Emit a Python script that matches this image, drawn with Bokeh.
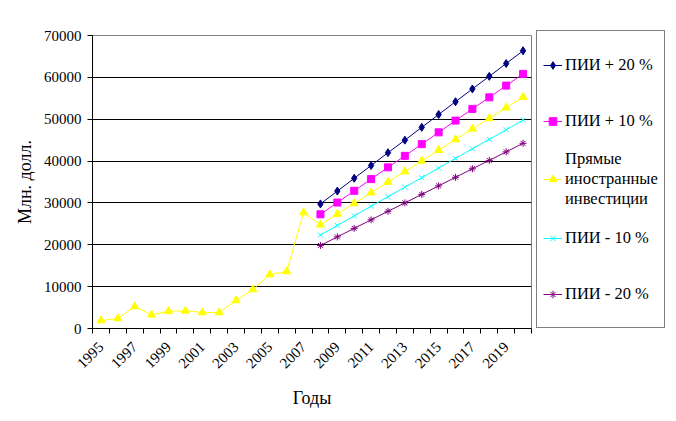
from bokeh.plotting import figure
from bokeh.models import FixedTicker, Legend, LegendItem, Range1d
from bokeh.embed import file_html
from bokeh.resources import INLINE

# ---- data ----
years = list(range(1995, 2021))
fdi = [1900, 2400, 5250, 3270, 4140, 4220, 3820, 3820, 6690, 9320, 12900, 13620,
       27700, 24800, 27350, 29900, 32450, 35000, 37500, 40050, 42600, 45150,
       47700, 50200, 52750, 55300]
fc_years = list(range(2008, 2021))
plus20 = [29760, 32820, 35880, 38940, 42000, 45000, 48060, 51120, 54180, 57240, 60240, 63300, 66360]
plus10 = [27280, 30085, 32890, 35695, 38500, 41250, 44055, 46860, 49665, 52470, 55220, 58025, 60830]
minus10 = [22320, 24615, 26910, 29205, 31500, 33750, 36045, 38340, 40635, 42930, 45180, 47475, 49770]
minus20 = [19840, 21880, 23920, 25960, 28000, 30000, 32040, 34080, 36120, 38160, 40160, 42200, 44240]
label_years = [1995, 1997, 1999, 2001, 2003, 2005, 2007, 2009, 2011, 2013, 2015, 2017, 2019]
y_ticks = [0, 10000, 20000, 30000, 40000, 50000, 60000, 70000]
names = ["ПИИ + 20 %", "ПИИ + 10 %", "Прямые\nиностранные\nинвестиции", "ПИИ - 10 %", "ПИИ - 20 %"]

FONT = "Liberation Serif"

p = figure(frame_width=439, frame_height=293,
           x_range=Range1d(years[0] - 0.5, years[-1] + 0.5),
           y_range=Range1d(y_ticks[0], y_ticks[-1]),
           output_backend="svg", toolbar_location=None,
           min_border_left=92, min_border_top=35, min_border_bottom=85, min_border_right=5)
p.background_fill_color = "white"
p.border_fill_color = "white"
p.outline_line_color = "#808080"
p.outline_line_width = 1

# axes
p.yaxis.ticker = FixedTicker(ticks=y_ticks)
p.yaxis.major_tick_out = 5
p.yaxis.major_tick_in = 0
p.yaxis.minor_tick_line_color = None
p.yaxis.major_label_standoff = 6
p.yaxis.axis_label = "Млн. долл."
p.yaxis.axis_label_standoff = 6
p.yaxis.axis_line_color = "black"

bounds = [y - 0.5 for y in years] + [years[-1] + 0.5]
p.xaxis.ticker = FixedTicker(ticks=label_years, minor_ticks=bounds)
p.xaxis.major_tick_line_color = None
p.xaxis.major_tick_out = 0
p.xaxis.major_tick_in = 0
p.xaxis.minor_tick_out = 5
p.xaxis.minor_tick_in = 0
p.xaxis.minor_tick_line_color = "black"
p.xaxis.major_label_orientation = 0.785398
p.xaxis.major_label_standoff = 11
p.xaxis.axis_label = "Годы"
p.xaxis.axis_label_standoff = 12
p.xaxis.axis_line_color = "black"

for ax in (p.xaxis[0], p.yaxis[0]):
    ax.major_label_text_font = FONT
    ax.major_label_text_font_size = "15px"
    ax.major_label_text_color = "black"
    ax.axis_label_text_font = FONT
    ax.axis_label_text_font_size = "18px"
    ax.axis_label_text_font_style = "normal"
    ax.axis_label_text_color = "black"

p.xgrid.grid_line_color = None
p.ygrid.ticker = FixedTicker(ticks=y_ticks[1:-1])
p.ygrid.grid_line_color = "black"
p.ygrid.grid_line_width = 1

# series
items = []
specs = [
    (fc_years, plus20, "#000080", "diamond", 8),
    (fc_years, plus10, "#FF00FF", "square", 7),
    (years, fdi, "#FFFF00", "triangle", 8),
    (fc_years, minus10, "#00FFFF", "x", 7),
    (fc_years, minus20, "#800080", "asterisk", 7),
]
for (xs, ys, col, mk, sz), nm in zip(specs, names):
    l = p.line(xs, ys, line_color=col, line_width=1)
    s = p.scatter(xs, ys, marker=mk, size=sz, line_color=col, fill_color=col, line_width=1)
    items.append(LegendItem(label=nm, renderers=[l, s]))

legend = Legend(items=items, location=(5, 0))
legend.border_line_color = "black"
legend.border_line_width = 1
legend.background_fill_color = "white"
legend.background_fill_alpha = 1
legend.label_text_font = FONT
legend.label_text_font_size = "16.5px"
legend.label_text_color = "black"
legend.glyph_width = 19
legend.glyph_height = 20
legend.label_height = 55
legend.label_standoff = 3
legend.spacing = 1
legend.padding = 6
legend.margin = 0
p.add_layout(legend, "right")

open("out.html", "w").write(file_html(p, INLINE))
